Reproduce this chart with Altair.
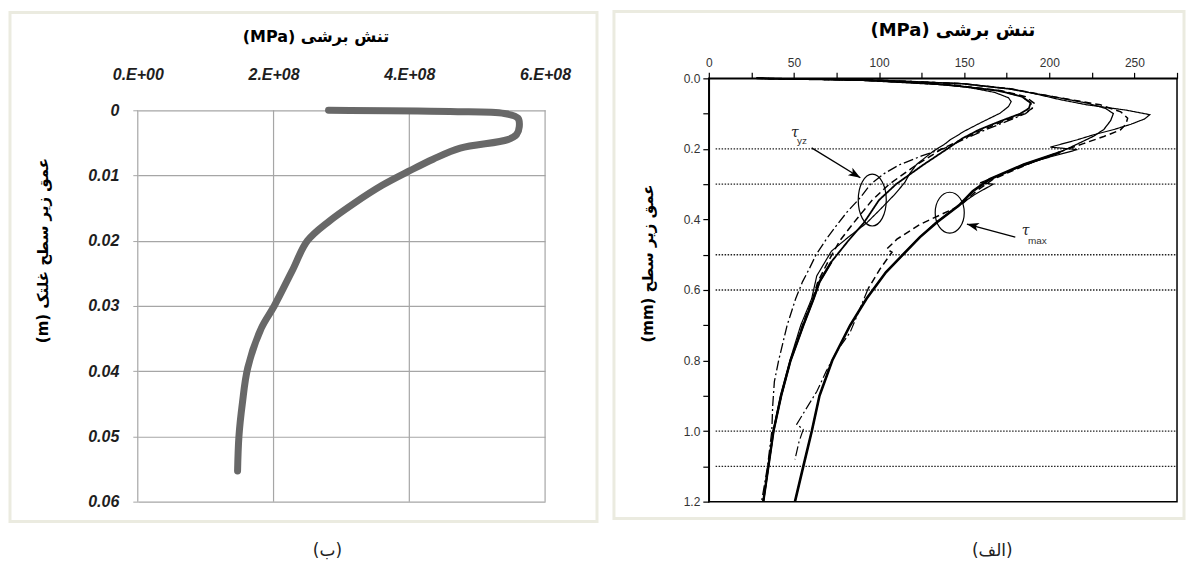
import json
import math
import pandas as pd
import altair as alt

# ---------------- panel (ب) : data ----------------
left_depth = [0, 0.0002, 0.0005, 0.0012, 0.0025, 0.0037, 0.0045, 0.0058, 0.0075, 0.0093,
              0.0115, 0.0143, 0.017, 0.020, 0.0247, 0.030, 0.0334, 0.0395, 0.045, 0.050, 0.0553]
left_stress = [2.81e8, 4.6e8, 5.4e8, 5.6e8, 5.62e8, 5.58e8, 5.45e8, 4.75e8, 4.35e8, 4.0e8,
               3.6e8, 3.18e8, 2.82e8, 2.5e8, 2.27e8, 2.01e8, 1.82e8, 1.62e8, 1.54e8, 1.49e8, 1.47e8]
left_x_ticks = [0, 200000000, 400000000, 600000000]
left_x_labels = ["0.E+00", "2.E+08", "4.E+08", "6.E+08"]
left_y_ticks = [0, 0.01, 0.02, 0.03, 0.04, 0.05, 0.06]
left_y_labels = ["0", "0.01", "0.02", "0.03", "0.04", "0.05", "0.06"]

# ---------------- panel (الف) : data ----------------
yzA_d = [0, 0.004, 0.012, 0.025, 0.04, 0.055, 0.066, 0.08, 0.099, 0.125, 0.15, 0.165, 0.174, 0.185, 0.206,
         0.244, 0.27, 0.296, 0.33, 0.37, 0.41, 0.45, 0.49, 0.56, 0.625, 0.7, 0.8, 0.9, 1.0, 1.1, 1.2]
yzA_v = [28, 80, 122, 152, 168, 176, 177.6, 176, 171, 160, 150, 145, 141.8, 139, 132,
         122, 118, 115, 109, 101, 92.7, 82, 72, 63.4, 60.4, 54, 47.6, 42, 37.8, 35, 32]
yzB_d = [0, 0.005, 0.018, 0.035, 0.052, 0.068, 0.085, 0.1, 0.12, 0.145, 0.17, 0.197, 0.22, 0.245, 0.27,
         0.30, 0.338, 0.38, 0.417, 0.456, 0.5, 0.54, 0.577, 0.625, 0.7, 0.8, 0.86, 0.93, 1.0, 1.1, 1.2]
yzB_v = [28, 90, 140, 170, 184, 189, 190, 186, 176, 163, 151, 139, 125, 112, 103,
         95, 89, 81, 75, 69, 63, 59, 55, 51, 46, 41, 38.5, 37.5, 37, 34.5, 31]
yzC_d = [0, 0.005, 0.018, 0.035, 0.052, 0.07, 0.085, 0.1, 0.12, 0.145, 0.17, 0.2, 0.245, 0.3, 0.345,
         0.41, 0.46, 0.52, 0.577, 0.625, 0.7, 0.8, 0.9, 1.0, 1.1, 1.2]
yzC_v = [28, 92, 142, 172, 186, 191, 190, 185, 174, 161, 150, 137, 122, 106, 96,
         85, 77, 70, 64, 61, 55, 48, 42.5, 38, 35, 32]
yzD_d = [0, 0.005, 0.018, 0.035, 0.052, 0.07, 0.085, 0.1, 0.12, 0.145, 0.17, 0.2, 0.245, 0.3, 0.345,
         0.41, 0.46, 0.52, 0.577, 0.625, 0.7, 0.8, 0.9, 1.0, 1.1, 1.2]
yzD_v = [28, 90, 140, 170, 184, 189, 188, 183, 172, 159, 149, 140, 126, 110, 100,
         91, 82, 72, 65, 61.5, 55.5, 48, 42.5, 38, 35, 32]
mxE_d = [0, 0.005, 0.015, 0.03, 0.042, 0.06, 0.075, 0.09, 0.103, 0.115, 0.13, 0.145, 0.16, 0.174, 0.195,
         0.202, 0.23, 0.26, 0.296, 0.30, 0.33, 0.36, 0.41, 0.46, 0.5]
mxE_v = [28, 100, 150, 178, 190, 206, 222, 245, 259, 256, 248, 238, 226, 216.5, 200.6,
         216.5, 195, 178, 159.4, 167, 156, 147, 133, 122, 114]
mxF_d = [0, 0.005, 0.015, 0.03, 0.05, 0.075, 0.095, 0.113, 0.13, 0.146, 0.165, 0.185, 0.205, 0.244, 0.286,
         0.32, 0.36, 0.414, 0.456, 0.484, 0.493, 0.54, 0.597]
mxF_v = [28, 98, 148, 178, 200, 230, 242, 246, 245, 241.8, 232, 220, 208, 187, 167,
         157, 148, 124, 110.5, 104.5, 107.6, 100.6, 93.5]
mxG_d = [0.597, 0.65, 0.72, 0.775, 0.83, 0.887, 0.958, 0.981, 0.995, 1.03, 1.08]
mxG_v = [93.5, 89, 83, 75, 69, 63.5, 54.5, 51.6, 55.5, 53, 50.6]
mxH_d = [0, 0.005, 0.015, 0.03, 0.05, 0.07, 0.085, 0.1, 0.12, 0.145, 0.164, 0.185, 0.21, 0.244, 0.286,
         0.32, 0.36, 0.408, 0.45, 0.5, 0.55, 0.624, 0.7, 0.8, 0.9, 1.0, 1.1, 1.2]
mxH_v = [28, 100, 148, 176, 200, 222, 233, 237.6, 236, 232, 226, 217, 206, 185, 165,
         155, 147, 134, 124, 114, 104, 92.7, 83, 72.5, 65, 60.5, 55.5, 50.6]

dot_depths = [0.2, 0.3, 0.5, 0.6, 1.0, 1.1]
dot_from = [4, 4, 4, 4, 4, 4]
dot_to = [275, 275, 275, 275, 275, 275]

ell_v = [96, 141.5]
ell_d = [0.345, 0.381]

arr_v = [60.4, 180]
arr_d = [0.197, 0.45]
arr_v2 = [89, 151.6]
arr_d2 = [0.282, 0.413]

tau_v = [50.6, 186]
tau_d = [0.155, 0.432]
sub_text = ["yz", "max"]
sub_v = [54.7, 193]
sub_d = [0.177, 0.46]

right_x_ticks = [0, 25, 50, 75, 100, 125, 150, 175, 200, 225, 250, 275]
right_x_labels = ["0", "", "50", "", "100", "", "150", "", "200", "", "250", ""]
right_y_ticks = [0, 0.1, 0.2, 0.3, 0.4, 0.5, 0.6, 0.7, 0.8, 0.9, 1.0, 1.1, 1.2]
right_y_labels = ["0.0", "", "0.2", "", "0.4", "", "0.6", "", "0.8", "", "1.0", "", "1.2"]


def lab_expr(vals, labels):
    return "%s[indexof(%s, datum.value)]" % (json.dumps(labels, ensure_ascii=False), json.dumps(vals))


AR_FONT = "DejaVu Sans"
# both panels share the same plot-area top; the left data area starts 32px lower
LW, LH = 408, 424
LTOP = 32
RW, RH = 469, 424
one = pd.DataFrame({"k": [0]})
GRID = "#a6a6a6"

# ================= left panel =================
lx_axis = alt.Axis(orient="top", values=left_x_ticks, labelExpr=lab_expr(left_x_ticks, left_x_labels),
                   grid=False, domain=False, ticks=False,
                   labelFont="Liberation Sans", labelFontSize=16, labelFontStyle="italic",
                   labelFontWeight="bold", labelColor="#1e1e1e", labelPadding=-4, labelFlush=False,
                   labelOverlap=False,
                   title="(MPa) تنش برشی", titleFont=AR_FONT, titleFontSize=16, titleFontWeight="bold",
                   titleColor="#000", titleX=178, titleY=-42, titleAlign="center", titleBaseline="middle")
ly_axis = alt.Axis(values=left_y_ticks, labelExpr=lab_expr(left_y_ticks, left_y_labels),
                   grid=True, gridColor=GRID, gridWidth=1.2, domain=False, ticks=True,
                   tickColor=GRID, tickSize=5, labelPadding=14,
                   labelFont="Liberation Sans", labelFontSize=16, labelFontStyle="italic",
                   labelFontWeight="bold", labelColor="#1e1e1e", labelOverlap=False,
                   title="(m) عمق زیر سطح غلتک", titleFont=AR_FONT, titleFontSize=15,
                   titleFontWeight="bold", titleColor="#000", titleAngle=-90, titleX=-95, titleY=172,
                   titleAlign="center", titleBaseline="middle")
LSX = alt.Scale(domain=[0, 600000000], nice=False)
LSY = alt.Scale(domain=[0, 0.06], range=[LTOP, LH], nice=False)


def lx(field):
    return alt.X(field, scale=LSX, axis=lx_axis)


def ly(field):
    return alt.Y(field, scale=LSY, axis=ly_axis)


left_df = pd.DataFrame({"i": list(range(len(left_depth))), "x": left_stress, "d": left_depth})
vgrid_df = pd.DataFrame({"x": left_x_ticks, "d": [0] * len(left_x_ticks),
                         "d2": [0.06] * len(left_x_ticks)})
left_frame = alt.Chart(one).mark_rect(fill="transparent", stroke="#ebebe0", strokeWidth=3).encode(
    x=alt.value(-128), x2=alt.value(460), y=alt.value(-66), y2=alt.value(444))
left_vgrid = alt.Chart(vgrid_df).mark_rule(color=GRID, strokeWidth=1.2).encode(
    x=lx("x:Q"), y=ly("d:Q"), y2="d2:Q")
left_line = alt.Chart(left_df).mark_line(color="#686868", strokeWidth=7, strokeCap="round",
                                         strokeJoin="round", interpolate="catmull-rom").encode(
    x=lx("x:Q"), y=ly("d:Q"), order="i:Q")
left_cap = alt.Chart(one).mark_text(text="(ب)", font=AR_FONT, fontSize=17, align="center",
                                    baseline="middle", color="#222").encode(
    x=alt.value(190), y=alt.value(473))
left = alt.layer(left_frame, left_vgrid, left_line, left_cap).properties(
    width=LW, height=LH, view=alt.ViewBackground(stroke="transparent"))

# ================= right panel =================
rx_axis = alt.Axis(orient="top", values=right_x_ticks, labelExpr=lab_expr(right_x_ticks, right_x_labels),
                   grid=False, domain=True, domainColor="black", domainWidth=1.5, ticks=True,
                   tickColor="black", tickWidth=1.2, tickSize=6, labelFont="Liberation Sans",
                   labelFontSize=12, labelColor="#333", labelPadding=3, labelFlush=False,
                   labelOverlap=False,
                   title="(MPa) تنش برشی", titleFont=AR_FONT, titleFontSize=18, titleFontWeight="bold",
                   titleColor="#000", titleX=244, titleY=-48, titleAlign="center", titleBaseline="middle")
ry_axis = alt.Axis(values=right_y_ticks, labelExpr=lab_expr(right_y_ticks, right_y_labels),
                   grid=False, domain=True, domainColor="black", domainWidth=1.5, ticks=True,
                   tickColor="black", tickWidth=1.2, tickSize=6, labelFont="Liberation Sans",
                   labelFontSize=12, labelColor="#333", labelPadding=3, labelOverlap=False,
                   title="(mm) عمق زیر سطح", titleFont=AR_FONT, titleFontSize=15, titleFontWeight="bold",
                   titleColor="#000", titleAngle=-90, titleX=-61, titleY=185, titleAlign="center",
                   titleBaseline="middle")
RSX = alt.Scale(domain=[0, 275], nice=False)
RSY = alt.Scale(domain=[0, 1.2], reverse=True, nice=False)


def rx(field):
    return alt.X(field, scale=RSX, axis=rx_axis)


def ry(field):
    return alt.Y(field, scale=RSY, axis=ry_axis)


series = [
    ("yzA", yzA_v, yzA_d, [1, 0], 1.2),
    ("yzB", yzB_v, yzB_d, [10, 3, 2, 3], 1.3),
    ("yzC", yzC_v, yzC_d, [7, 4], 1.5),
    ("yzD", yzD_v, yzD_d, [1, 0], 1.8),
    ("mxE", mxE_v, mxE_d, [1, 0], 1.2),
    ("mxF", mxF_v, mxF_d, [7, 4], 1.5),
    ("mxG", mxG_v, mxG_d, [10, 3, 2, 3], 1.2),
    ("mxH", mxH_v, mxH_d, [1, 0], 1.3),
]
rows = []
for name, vs, ds, _, _ in series:
    for i, (v, d) in enumerate(zip(vs, ds)):
        rows.append({"s": name, "i": i, "v": v, "d": d})
right_df = pd.DataFrame(rows)

layers = []
frame_r = alt.Chart(one).mark_rect(fill="transparent", stroke="#ebebe0", strokeWidth=3).encode(
    x=alt.value(-95), x2=alt.value(476), y=alt.value(-67), y2=alt.value(441))
layers.append(frame_r)

dot_df = pd.DataFrame({"d": dot_depths, "v": dot_from, "v2": dot_to})
layers.append(alt.Chart(dot_df).mark_rule(color="#222", strokeWidth=1.4, strokeDash=[1.5, 1.5]).encode(
    x=rx("v:Q"), x2="v2:Q", y=ry("d:Q")))

for name, vs, ds, dash, w in series:
    layers.append(alt.Chart(right_df).transform_filter(alt.datum.s == name).mark_line(
        color="black", strokeWidth=w, strokeDash=dash).encode(x=rx("v:Q"), y=ry("d:Q"), order="i:Q"))
# thick converged lower parts
layers.append(alt.Chart(right_df).transform_filter((alt.datum.s == "mxH") & (alt.datum.d >= 0.2)).mark_line(
    color="black", strokeWidth=2.6).encode(x=rx("v:Q"), y=ry("d:Q"), order="i:Q"))
layers.append(alt.Chart(right_df).transform_filter((alt.datum.s == "yzD") & (alt.datum.d >= 0.5)).mark_line(
    color="black", strokeWidth=2.4).encode(x=rx("v:Q"), y=ry("d:Q"), order="i:Q"))

ell_df = pd.DataFrame({"v": ell_v, "d": ell_d})
layers.append(alt.Chart(ell_df.iloc[[0]]).mark_point(
    shape="M -0.54 0 A 0.54 1 0 1 0 0.54 0 A 0.54 1 0 1 0 -0.54 0 Z", size=2704, filled=False,
    color="black", strokeWidth=1.2, opacity=1).encode(x=rx("v:Q"), y=ry("d:Q")))
layers.append(alt.Chart(ell_df.iloc[[1]]).mark_point(
    shape="M -0.71 0 A 0.71 1 0 1 0 0.71 0 A 0.71 1 0 1 0 -0.71 0 Z", size=1681, filled=False,
    color="black", strokeWidth=1.2, opacity=1).encode(x=rx("v:Q"), y=ry("d:Q")))

sx, sy = RW / 275.0, RH / 1.2
arr_ang = [math.degrees(math.atan2((d2 - d) * sy, (v2 - v) * sx)) % 360
           for v, d, v2, d2 in zip(arr_v, arr_d, arr_v2, arr_d2)]
arr_df = pd.DataFrame({"v": arr_v, "d": arr_d, "v2": arr_v2, "d2": arr_d2, "ang": arr_ang})
layers.append(alt.Chart(arr_df).mark_rule(color="black", strokeWidth=1.3).encode(
    x=rx("v:Q"), y=ry("d:Q"), x2="v2:Q", y2="d2:Q"))
layers.append(alt.Chart(arr_df).mark_point(
    shape="M 0 0 L -1 -0.36 L -0.75 0 L -1 0.36 Z", size=576, filled=True, color="black",
    opacity=1).encode(x=rx("v2:Q"), y=ry("d2:Q"), angle=alt.Angle("ang:Q", scale=None)))

tau_df = pd.DataFrame({"v": tau_v, "d": tau_d, "t": ["τ", "τ"]})
layers.append(alt.Chart(tau_df).mark_text(font="DejaVu Serif", fontStyle="italic", fontSize=14,
                                          color="#222", align="center", baseline="middle").encode(
    x=rx("v:Q"), y=ry("d:Q"), text="t:N"))
sub_df = pd.DataFrame({"v": sub_v, "d": sub_d, "t": sub_text})
layers.append(alt.Chart(sub_df).mark_text(font="Liberation Sans", fontSize=10, color="#333",
                                          align="center", baseline="middle").encode(
    x=rx("v:Q"), y=ry("d:Q"), text="t:N"))

layers.append(alt.Chart(one).mark_text(text="(الف)", font=AR_FONT, fontSize=17, align="center",
                                       baseline="middle", color="#222").encode(
    x=alt.value(284), y=alt.value(473)))

right = alt.layer(*layers).properties(
    width=RW, height=RH, view=alt.ViewBackground(stroke="black", strokeWidth=1.5))

chart = alt.hconcat(left, right, spacing=12).properties(padding=0).configure(background="white")

chart.save("out.html", embed_options={"renderer": "svg", "actions": False})
